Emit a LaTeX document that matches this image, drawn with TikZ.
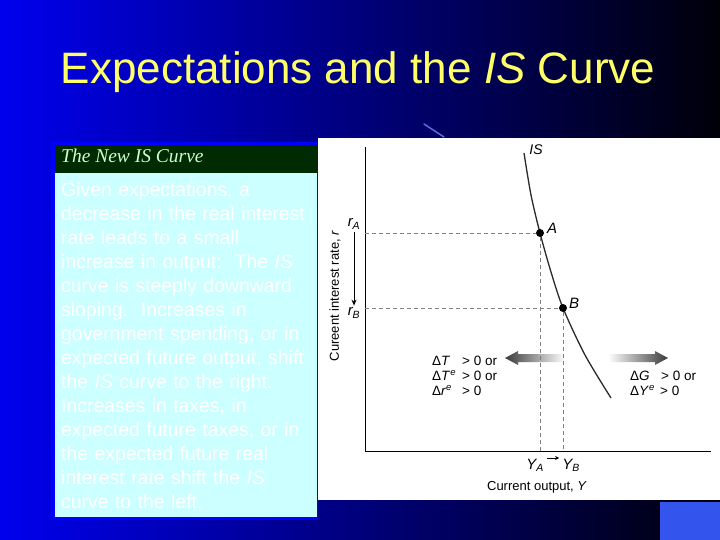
\documentclass[tikz,border=0pt]{standalone}
\usepackage{fontspec}
\setmainfont{Liberation Sans}
\newfontfamily\hdrfont{Liberation Serif}
\usetikzlibrary{positioning,arrows.meta}
\definecolor{bgL}{HTML}{0000EE}
\definecolor{bgM}{HTML}{0000B8}
\definecolor{bgR}{HTML}{000008}
\definecolor{frame}{HTML}{0000FF}
\definecolor{hdr}{HTML}{002A00}
\definecolor{hdrtxt}{HTML}{CCFFCC}
\definecolor{panel}{HTML}{CCFFFF}
\definecolor{titletxt}{HTML}{FFFF66}
\definecolor{corner}{HTML}{3355EE}
\definecolor{curve}{HTML}{2B2B2B}
\definecolor{guide}{HTML}{808080}
\definecolor{arrdk}{HTML}{3A3A3A}
\definecolor{streak}{HTML}{5A6AE0}

\begin{document}
\begin{tikzpicture}[x=1pt, y=-1pt,
    every node/.style={inner sep=0pt},
    titlebox/.style={font=\fontsize{44}{50}\selectfont, text=titletxt},
    bodytxt/.style={text width=258pt, align=left, font=\fontsize{19.4}{24}\selectfont, text=white},
    lbl/.style={font=\fontsize{13.5}{15}\selectfont, text=black, align=left},
    axlbl/.style={font=\fontsize{13}{14}\selectfont, text=black},
    ptlbl/.style={font=\fontsize{15}{16}\selectfont\itshape, text=black},
    dot/.style={circle, fill=black, minimum size=8pt},
    axis/.style={draw=black, line width=0.9pt},
    guideline/.style={draw=guide, line width=0.8pt, dash pattern=on 4pt off 3pt},
    shiftl/.style={left color=arrdk, right color=white},
    shiftr/.style={left color=white, right color=arrdk},
    rel/.style={-{Stealth[length=6pt, width=5pt]}, draw=black, line width=0.9pt},
  ]
  \useasboundingbox (0,0) rectangle (720,540);

  % slide background
  \shade[left color=bgL, middle color=bgM, right color=bgR] (0,0) rectangle (720,540);
  \fill[corner] (660,502) rectangle (720,540);
  \draw[streak, line width=1.5pt, line cap=round] (424,124) -- (444,137);

  % title
  \node[titlebox, anchor=base] (title) at (358,84) {Expectations and the \textit{IS} Curve};

  % left text panel
  \fill[frame] (51,142) rectangle (318,520);
  \fill[hdr] (55,145) rectangle (317,173);
  \fill[panel] (55,173) rectangle (317,517);
  \node[anchor=base west, text=hdrtxt, font=\hdrfont\itshape\fontsize{19.5}{20}\selectfont] (hdrlbl)
        at (61,163) {The New IS Curve};
  \node[bodytxt, anchor=north west] (body) at (61,182)
        {Given expectations, a\\
         decrease in the real interest\\
         rate leads to a small\\
         increase in output:\ \ The \textit{IS}\\
         curve is steeply downward\\
         sloping.\ \ Increases in\\
         government spending, or in\\
         expected future output, shift\\
         the \textit{IS} curve to the right.\\
         Increases in taxes, in\\
         expected future taxes, or in\\
         the expected future real\\
         interest rate shift the \textit{IS}\\
         curve to the left.};

  % graph panel
  \fill[white] (318,138) rectangle (720,500);
  \coordinate (O) at (365,451);
  \coordinate (ytop) at (365,147);
  \coordinate (xend) at (711,451);
  \draw[axis] (ytop) -- (O) -- (xend);

  % shift arrows
  \shade[shiftl] (505,358) -- (518,351) -- (518,354) -- (565,354) -- (565,362)
        -- (518,362) -- (518,365) -- cycle;
  \shade[shiftr] (668,358) -- (655,351) -- (655,354) -- (608,354) -- (608,362)
        -- (655,362) -- (655,365) -- cycle;

  % IS curve and points
  \draw[curve, line width=1.3pt] plot[smooth] coordinates
        {(524,153) (531,195) (540,233) (551,272) (563,308) (585,355) (611,398)};
  \node[dot] (A) at (540,233) {};
  \node[dot] (B) at (563,308) {};
  \node[ptlbl, font=\fontsize{14}{16}\selectfont\itshape] (islbl) at (536,150) {IS};
  \node[ptlbl] (Albl) at (552,228) {A};
  \node[ptlbl] (Blbl) at (574,303) {B};

  % dashed guides
  \coordinate (rAax) at (365,233);
  \coordinate (rBax) at (365,308);
  \draw[guideline] (rAax) -- (A) -- (A |- O);
  \draw[guideline] (rBax) -- (B) -- (B |- O);

  % axis labels
  \node[ptlbl] (rA) at (354,224) {r\textsubscript{\itshape A}};
  \node[ptlbl] (rB) at (354,313) {r\textsubscript{\itshape B}};
  \draw[rel] ([yshift=-3pt]rA.south) -- ([yshift=2pt]rB.north);
  \node[ptlbl] (YA) at (535,465) {Y\textsubscript{\itshape A}};
  \node[ptlbl] (YB) at (571,465) {Y\textsubscript{\itshape B}};
  \draw[rel, line width=0.7pt, -{Stealth[length=4pt, width=4pt]}]
        ([xshift=3pt,yshift=7pt]YA.east) -- ([xshift=-3pt,yshift=7pt]YB.west);
  \node[axlbl] (xlab) at (537,487) {Current output, \textit{Y}};
  \node[axlbl, rotate=90] (ylab) at (335,296) {Cureent interest rate, \textit{r}};

  % shift conditions
  \node[lbl, anchor=north west] (leftcond) at (432,356)
        {\makebox[30pt][l]{Δ\textit{T}}> 0 or\\
         \makebox[30pt][l]{Δ\textit{T}\textsuperscript{\itshape e}}> 0 or\\
         \makebox[30pt][l]{Δ\textit{r}\textsuperscript{\itshape e}}> 0};
  \node[lbl, anchor=north west] (rightcond) at (630,371)
        {\makebox[31pt][l]{Δ\textit{G}}> 0 or\\
         \makebox[30pt][l]{Δ\textit{Y}\textsuperscript{\itshape e}}> 0};
\end{tikzpicture}
\end{document}
